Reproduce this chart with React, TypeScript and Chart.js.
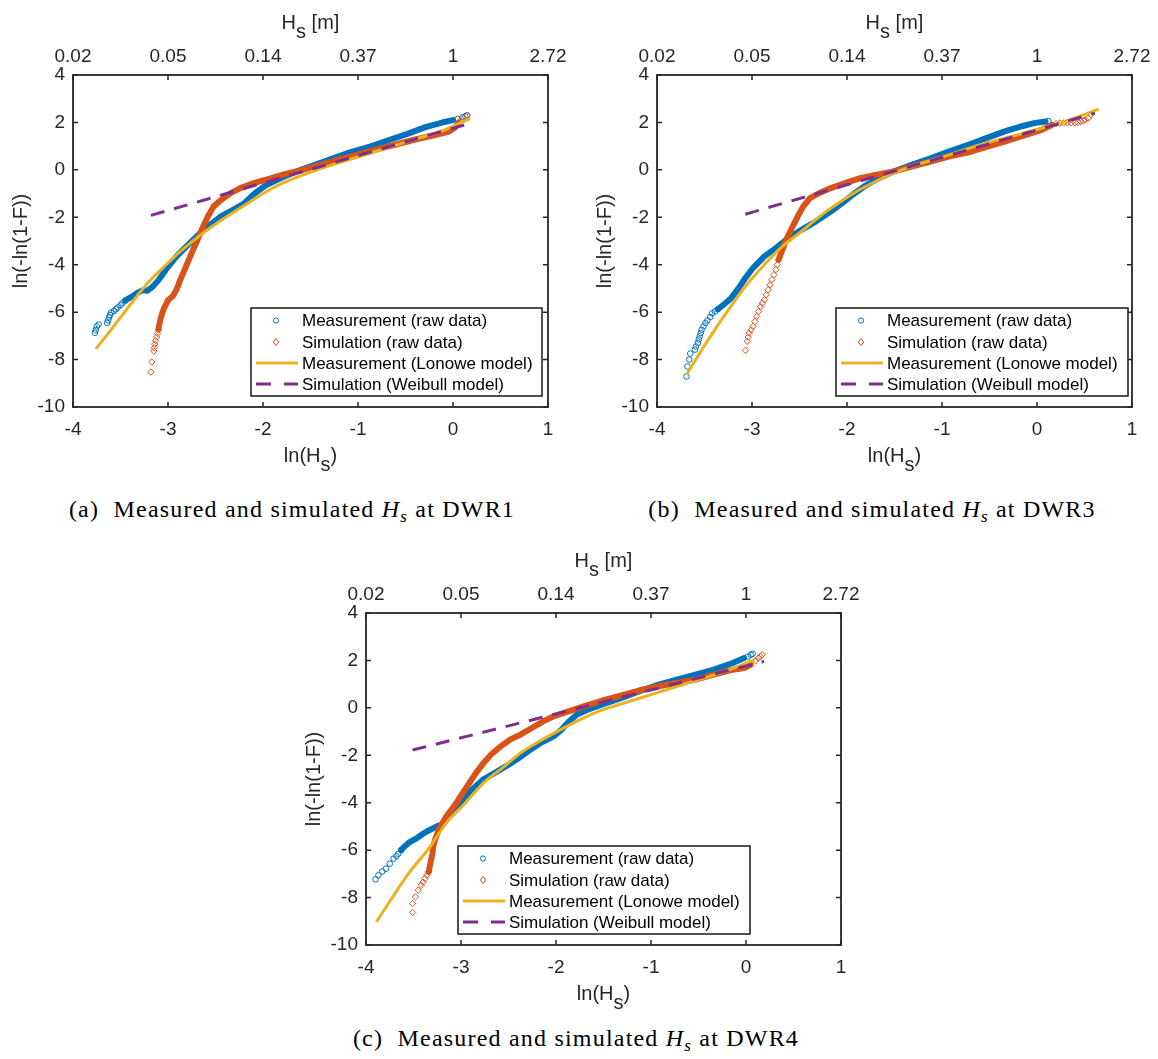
import React, { useEffect, useRef } from 'react';
import { Chart, registerables } from 'chart.js';
Chart.register(...registerables);

type P = [number, number];

// ---------- tick labels ----------
const xTickLabels = ['-4', '-3', '-2', '-1', '0', '1'];
const topTickLabels = ['0.02', '0.05', '0.14', '0.37', '1', '2.72'];
const yTickLabels = ['-10', '-8', '-6', '-4', '-2', '0', '2', '4'];
const legendLabels = [
  'Measurement (raw data)',
  'Simulation (raw data)',
  'Measurement (Lonowe model)',
  'Simulation (Weibull model)',
];

// ---------- panel (a) DWR1 ----------
const measA_tail: P[] = [
  [-3.77, -6.87], [-3.76, -6.75], [-3.75, -6.6], [-3.73, -6.52], [-3.64, -6.45], [-3.63, -6.35],
  [-3.62, -6.22], [-3.61, -6.12], [-3.6, -6.02], [-3.57, -5.95], [-3.55, -5.88], [-3.53, -5.8],
  [-3.5, -5.7], [-3.48, -5.62], [-3.45, -5.52],
];
const measA_band: P[] = [
  [-3.45, -5.5], [-3.38, -5.35], [-3.32, -5.18], [-3.26, -5.07], [-3.22, -5.1], [-3.16, -4.92],
  [-3.1, -4.65], [-3.02, -4.2], [-2.91, -3.65], [-2.79, -3.16], [-2.67, -2.7], [-2.55, -2.3],
  [-2.44, -1.95], [-2.32, -1.7], [-2.2, -1.42], [-2.09, -1.0], [-1.97, -0.65], [-1.81, -0.35],
  [-1.66, -0.08], [-1.46, 0.2], [-1.27, 0.48], [-1.07, 0.76], [-0.875, 0.98], [-0.68, 1.25],
  [-0.48, 1.52], [-0.29, 1.8], [-0.17, 1.93], [-0.09, 2.02], [0.0, 2.1],
];
const measA_top: P[] = [[0.05, 2.15], [0.1, 2.22], [0.13, 2.26], [0.15, 2.3]];
const simA_tail: P[] = [
  [-3.18, -8.53], [-3.17, -8.1], [-3.15, -7.64], [-3.145, -7.5], [-3.14, -7.35], [-3.13, -7.2],
  [-3.12, -7.05], [-3.11, -6.9], [-3.1, -6.75],
];
const simA_band: P[] = [
  [-3.1, -6.7], [-3.08, -6.3], [-3.06, -6.03], [-3.04, -5.82], [-3.0, -5.5], [-2.95, -5.33],
  [-2.91, -5.05], [-2.87, -4.63], [-2.81, -4.07], [-2.75, -3.5], [-2.69, -2.95], [-2.63, -2.38],
  [-2.57, -1.89], [-2.52, -1.54], [-2.44, -1.26], [-2.34, -0.98], [-2.24, -0.77], [-2.09, -0.55],
  [-1.93, -0.37], [-1.77, -0.18], [-1.58, 0.0], [-1.38, 0.23], [-1.19, 0.44], [-0.99, 0.66],
  [-0.8, 0.86], [-0.6, 1.07], [-0.41, 1.27], [-0.21, 1.45], [-0.05, 1.6], [0.02, 1.78], [0.06, 2.0],
];
const simA_top: P[] = [[0.08, 2.08], [0.11, 2.18], [0.15, 2.29]];
const lonoweA: P[] = [
  [-3.76, -7.55], [-3.61, -6.8], [-3.41, -5.75], [-3.22, -4.8], [-3.02, -4.0], [-2.83, -3.3],
  [-2.63, -2.66], [-2.44, -2.13], [-2.24, -1.61], [-2.05, -1.12], [-1.85, -0.67], [-1.66, -0.34],
  [-1.46, -0.04], [-1.27, 0.21], [-0.875, 0.7], [-0.48, 1.19], [-0.09, 1.68], [0.18, 2.17],
];
const weibullA: P[] = [[-3.18, -1.92], [0.16, 1.94]];

// ---------- panel (b) DWR3 ----------
const measB_tail: P[] = [
  [-3.69, -8.71], [-3.68, -8.29], [-3.66, -8.0], [-3.65, -7.75], [-3.6, -7.58], [-3.59, -7.45],
  [-3.57, -7.3], [-3.56, -7.15], [-3.55, -7.02], [-3.54, -6.88], [-3.53, -6.74], [-3.51, -6.6],
  [-3.49, -6.46], [-3.47, -6.35], [-3.44, -6.2], [-3.42, -6.05], [-3.39, -5.97], [-3.36, -5.88],
];
const measB_band: P[] = [
  [-3.36, -5.87], [-3.3, -5.69], [-3.22, -5.41], [-3.14, -4.99], [-3.07, -4.56], [-2.99, -4.14],
  [-2.87, -3.65], [-2.75, -3.3], [-2.64, -2.95], [-2.48, -2.53], [-2.33, -2.18], [-2.17, -1.76],
  [-2.05, -1.4], [-1.94, -1.05], [-1.82, -0.7], [-1.7, -0.42], [-1.51, -0.07], [-1.32, 0.21],
  [-1.12, 0.49], [-0.93, 0.77], [-0.73, 1.05], [-0.54, 1.33], [-0.34, 1.62], [-0.15, 1.85],
  [-0.03, 1.97], [0.09, 2.04],
];
const measB_top: P[] = [[0.12, 2.06]];
const simB_tail: P[] = [
  [-3.07, -7.61], [-3.05, -7.23], [-3.04, -7.05], [-3.03, -6.88], [-3.01, -6.75], [-2.99, -6.6],
  [-2.97, -6.4], [-2.95, -6.18], [-2.93, -5.97], [-2.91, -5.76], [-2.89, -5.62], [-2.87, -5.48],
  [-2.85, -5.27], [-2.83, -5.06], [-2.81, -4.85], [-2.79, -4.63], [-2.77, -4.42], [-2.75, -4.21],
  [-2.735, -4.0], [-2.72, -3.79],
];
const simB_band: P[] = [
  [-2.72, -3.79], [-2.68, -3.37], [-2.64, -2.95], [-2.58, -2.46], [-2.52, -1.97], [-2.46, -1.54],
  [-2.39, -1.19], [-2.29, -0.98], [-2.17, -0.77], [-2.02, -0.56], [-1.86, -0.35], [-1.7, -0.21],
  [-1.51, -0.07], [-1.32, 0.14], [-1.12, 0.35], [-0.93, 0.56], [-0.73, 0.73], [-0.54, 0.96],
  [-0.34, 1.19], [-0.15, 1.43], [0.05, 1.69], [0.16, 1.9],
];
const simB_top: P[] = [
  [0.2, 1.95], [0.24, 1.97], [0.28, 1.98], [0.32, 1.99], [0.36, 1.98], [0.4, 1.99], [0.43, 2.0],
  [0.46, 2.04], [0.49, 2.07], [0.51, 2.11], [0.54, 2.18], [0.57, 2.32],
];
const lonoweB: P[] = [
  [-3.69, -8.64], [-3.46, -7.16], [-3.26, -5.97], [-3.07, -4.92], [-2.87, -4.0], [-2.68, -3.23],
  [-2.48, -2.6], [-2.29, -1.97], [-2.09, -1.4], [-1.9, -0.91], [-1.7, -0.49], [-1.51, -0.14],
  [-1.32, 0.14], [-0.93, 0.63], [-0.54, 1.12], [-0.15, 1.54], [0.24, 1.97], [0.65, 2.56],
];
const weibullB: P[] = [[-3.07, -1.87], [0.61, 2.39]];

// ---------- panel (c) DWR4 ----------
const measC_tail: P[] = [
  [-3.9, -7.23], [-3.87, -7.06], [-3.83, -6.9], [-3.79, -6.78], [-3.75, -6.57], [-3.71, -6.36],
  [-3.68, -6.25], [-3.66, -6.15], [-3.63, -6.0],
];
const measC_band: P[] = [
  [-3.63, -6.0], [-3.6, -5.87], [-3.54, -5.66], [-3.46, -5.48], [-3.4, -5.31], [-3.34, -5.17],
  [-3.27, -5.03], [-3.19, -4.9], [-3.13, -4.62], [-3.07, -4.27], [-2.99, -3.92], [-2.88, -3.43],
  [-2.76, -3.0], [-2.64, -2.73], [-2.52, -2.45], [-2.41, -2.17], [-2.29, -1.82], [-2.17, -1.5],
  [-2.02, -1.19], [-1.94, -0.91], [-1.86, -0.56], [-1.78, -0.28], [-1.66, -0.07], [-1.51, 0.14],
  [-1.31, 0.42], [-1.12, 0.7], [-0.92, 0.98], [-0.73, 1.19], [-0.53, 1.4], [-0.34, 1.61],
  [-0.14, 1.89], [-0.02, 2.1],
];
const measC_top: P[] = [[0.02, 2.16], [0.05, 2.24], [0.07, 2.28]];
const simC_tail: P[] = [
  [-3.51, -8.63], [-3.51, -8.25], [-3.48, -7.97], [-3.45, -7.69], [-3.42, -7.48], [-3.4, -7.35],
  [-3.38, -7.2], [-3.36, -7.05], [-3.34, -6.92],
];
const simC_band: P[] = [
  [-3.34, -6.92], [-3.32, -6.5], [-3.3, -6.15], [-3.29, -5.8], [-3.27, -5.52], [-3.23, -5.1],
  [-3.15, -4.55], [-3.07, -4.13], [-2.99, -3.64], [-2.91, -3.15], [-2.84, -2.73], [-2.76, -2.31],
  [-2.68, -1.96], [-2.6, -1.68], [-2.48, -1.33], [-2.37, -1.12], [-2.25, -0.84], [-2.13, -0.56],
  [-2.02, -0.35], [-1.86, -0.14], [-1.7, 0.07], [-1.51, 0.31], [-1.31, 0.53], [-1.12, 0.74],
  [-0.92, 0.91], [-0.73, 1.05], [-0.53, 1.19], [-0.34, 1.4], [-0.14, 1.61], [-0.02, 1.68], [0.05, 1.82],
];
const simC_top: P[] = [[0.1, 1.98], [0.13, 2.1], [0.15, 2.16], [0.17, 2.24]];
const lonoweC: P[] = [
  [-3.89, -9.02], [-3.73, -8.04], [-3.54, -6.92], [-3.34, -5.94], [-3.15, -4.83], [-2.95, -3.99],
  [-2.76, -3.15], [-2.56, -2.52], [-2.37, -1.89], [-2.17, -1.4], [-1.98, -0.98], [-1.78, -0.56],
  [-1.59, -0.21], [-1.39, 0.07], [-1.0, 0.56], [-0.61, 1.05], [-0.22, 1.54], [0.09, 2.03],
];
const weibullC: P[] = [[-3.51, -1.78], [0.19, 1.96]];

// ---------- styling ----------
const BLUE = '#0072BD';
const ORANGE = '#D95319';
const YELLOW = '#EDB120';
const PURPLE = '#7E2F8E';
const AX = '#262626';
const SANS = '"Liberation Sans", Arial, Helvetica, sans-serif';
const SERIF = '"Liberation Serif", "Times New Roman", serif';
const DASH = [14, 10];

const CANVAS_H = 480;
const AREA_L = 73;
const AREA_T = 75;
const AREA_R = 548;
const AREA_B = 407;

interface PanelCfg {
  left: number; top: number; w: number;
  meas: P[][]; measBand: P[];
  sim: P[][]; simBand: P[];
  lonowe: P[]; weibull: P[];
  legend: { x: number; y: number; w: number; h: number };
}

const panels: PanelCfg[] = [
  { left: 0, top: 0, w: 580, meas: [measA_tail, measA_top], measBand: measA_band, sim: [simA_tail, simA_top], simBand: simA_band, lonowe: lonoweA, weibull: weibullA, legend: { x: 251, y: 308, w: 291, h: 88 } },
  { left: 584, top: 0, w: 574, meas: [measB_tail, measB_top], measBand: measB_band, sim: [simB_tail, simB_top], simBand: simB_band, lonowe: lonoweB, weibull: weibullB, legend: { x: 252, y: 308, w: 292, h: 88 } },
  { left: 293, top: 538, w: 580, meas: [measC_tail, measC_top], measBand: measC_band, sim: [simC_tail, simC_top], simBand: simC_band, lonowe: lonoweC, weibull: weibullC, legend: { x: 165, y: 308, w: 292, h: 88 } },
];

const toXY = (arr: P[]) => arr.map(([x, y]) => ({ x, y }));

function drawParts(ctx: CanvasRenderingContext2D, parts: { t: string; sub?: boolean }[], cx: number, baseline: number, font: string) {
  ctx.font = font;
  const widths = parts.map((p) => ctx.measureText(p.t).width);
  const total = widths.reduce((a, b) => a + b, 0);
  let x = cx - total / 2;
  ctx.textAlign = 'left';
  ctx.textBaseline = 'alphabetic';
  parts.forEach((p, i) => {
    ctx.fillText(p.t, x, baseline + (p.sub ? 9 : 0));
    x += widths[i];
  });
}

function makePlugin(cfg: PanelCfg) {
  return {
    id: 'frameLegend',
    afterDraw(chart: any) {
      const ctx: CanvasRenderingContext2D = chart.ctx;
      const a = chart.chartArea;
      const xs = chart.scales.x;
      const ys = chart.scales.y;
      ctx.save();
      // frame
      ctx.strokeStyle = AX;
      ctx.lineWidth = 1.8;
      ctx.strokeRect(a.left, a.top, a.right - a.left, a.bottom - a.top);
      // inward ticks
      const TL = 5;
      ctx.lineWidth = 1.5;
      ctx.beginPath();
      xs.ticks.forEach((t: any) => {
        const px = xs.getPixelForValue(t.value);
        ctx.moveTo(px, a.bottom); ctx.lineTo(px, a.bottom - TL);
        ctx.moveTo(px, a.top); ctx.lineTo(px, a.top + TL);
      });
      ys.ticks.forEach((t: any) => {
        const py = ys.getPixelForValue(t.value);
        ctx.moveTo(a.left, py); ctx.lineTo(a.left + TL, py);
        ctx.moveTo(a.right, py); ctx.lineTo(a.right - TL, py);
      });
      ctx.stroke();

      // axis titles
      ctx.fillStyle = AX;
      const cx = (a.left + a.right) / 2;
      const tf = `20px ${SANS}`;
      drawParts(ctx, [{ t: 'H' }, { t: 's', sub: true }, { t: ' [m]' }], cx, 29, tf);
      drawParts(ctx, [{ t: 'ln(H' }, { t: 's', sub: true }, { t: ')' }], cx, 462, tf);
      ctx.save();
      ctx.translate(a.left - 46, (a.top + a.bottom) / 2);
      ctx.rotate(-Math.PI / 2);
      ctx.font = tf;
      ctx.textAlign = 'center';
      ctx.textBaseline = 'alphabetic';
      ctx.fillText('ln(-ln(1-F))', 0, 0);
      ctx.restore();

      // legend
      const L = cfg.legend;
      ctx.fillStyle = '#ffffff';
      ctx.fillRect(L.x, L.y, L.w, L.h);
      ctx.strokeStyle = '#262626';
      ctx.lineWidth = 1.6;
      ctx.strokeRect(L.x, L.y, L.w, L.h);
      const rows = [12.5, 34, 55, 76];
      ctx.font = `17px ${SANS}`;
      ctx.fillStyle = '#000000';
      ctx.textAlign = 'left';
      ctx.textBaseline = 'middle';
      legendLabels.forEach((lab, i) => ctx.fillText(lab, L.x + 51, L.y + rows[i] + 1));
      // markers
      const mx = L.x + 25;
      ctx.lineWidth = 1;
      ctx.strokeStyle = BLUE;
      ctx.beginPath();
      ctx.arc(mx, L.y + rows[0], 2.6, 0, Math.PI * 2);
      ctx.stroke();
      ctx.strokeStyle = ORANGE;
      ctx.beginPath();
      const dy = L.y + rows[1];
      ctx.moveTo(mx, dy - 3.6); ctx.lineTo(mx + 2.6, dy); ctx.lineTo(mx, dy + 3.6); ctx.lineTo(mx - 2.6, dy); ctx.closePath();
      ctx.stroke();
      ctx.lineWidth = 3;
      ctx.strokeStyle = YELLOW;
      ctx.beginPath();
      ctx.moveTo(L.x + 5, L.y + rows[2]); ctx.lineTo(L.x + 47, L.y + rows[2]);
      ctx.stroke();
      ctx.strokeStyle = PURPLE;
      ctx.setLineDash([15, 13]);
      ctx.beginPath();
      ctx.moveTo(L.x + 5, L.y + rows[3]); ctx.lineTo(L.x + 47, L.y + rows[3]);
      ctx.stroke();
      ctx.setLineDash([]);
      ctx.restore();
    },
  };
}

function Panel({ cfg }: { cfg: PanelCfg }) {
  const ref = useRef<HTMLCanvasElement>(null);
  useEffect(() => {
    const tickFont = { family: SANS, size: 19 };
    const markerSet = (arr: P[], color: string, style: string, r: number) => ({
      data: toXY(arr), showLine: false, pointStyle: style, pointRadius: r,
      pointBorderColor: color, pointBackgroundColor: 'rgba(0,0,0,0)', pointBorderWidth: 1,
    });
    const bandSet = (arr: P[], color: string) => ({
      data: toXY(arr), showLine: true, borderColor: color, borderWidth: 6, pointRadius: 0,
      borderCapStyle: 'round', borderJoinStyle: 'round', tension: 0,
    });
    const datasets: any[] = [
      { data: toXY(cfg.weibull), showLine: true, borderColor: PURPLE, borderWidth: 3, borderDash: DASH, pointRadius: 0 },
      { data: toXY(cfg.lonowe), showLine: true, borderColor: YELLOW, borderWidth: 3, pointRadius: 0, tension: 0.3 },
      ...cfg.sim.map((s) => markerSet(s, ORANGE, 'rectRot', 3.2)),
      bandSet(cfg.simBand, ORANGE),
      ...cfg.meas.map((s) => markerSet(s, BLUE, 'circle', 2.8)),
      bandSet(cfg.measBand, BLUE),
    ];
    const chart = new Chart(ref.current!, {
      type: 'scatter',
      data: { datasets },
      options: {
        responsive: false,
        animation: false,
        events: [],
        layout: { padding: { left: 0, top: 0, right: cfg.w - AREA_R, bottom: 0 } },
        plugins: { legend: { display: false }, tooltip: { enabled: false } },
        scales: {
          x: {
            type: 'linear', position: 'bottom', min: -4, max: 1,
            ticks: { stepSize: 1, font: tickFont, color: AX, padding: 11, maxRotation: 0, autoSkip: false, callback: (_v: any, i: number) => xTickLabels[i] },
            grid: { display: false, drawTicks: false }, border: { display: false },
            afterFit: (s: any) => { s.height = CANVAS_H - AREA_B; },
          },
          x2: {
            type: 'linear', axis: 'x', position: 'top', min: -4, max: 1,
            ticks: { stepSize: 1, font: tickFont, color: AX, padding: 7, maxRotation: 0, autoSkip: false, callback: (_v: any, i: number) => topTickLabels[i] },
            grid: { display: false, drawTicks: false }, border: { display: false },
            afterFit: (s: any) => { s.height = AREA_T; },
          },
          y: {
            type: 'linear', position: 'left', min: -10, max: 4,
            ticks: { stepSize: 2, font: tickFont, color: AX, padding: 8, autoSkip: false, callback: (_v: any, i: number) => yTickLabels[i] },
            grid: { display: false, drawTicks: false }, border: { display: false },
            afterFit: (s: any) => { s.width = AREA_L; },
          },
        },
      } as any,
      plugins: [makePlugin(cfg)],
    });
    return () => chart.destroy();
  }, []);
  return (
    <canvas
      ref={ref}
      width={cfg.w}
      height={CANVAS_H}
      style={{ position: 'absolute', left: cfg.left, top: cfg.top, width: cfg.w, height: CANVAS_H }}
    />
  );
}

const captions = [
  { label: '(a)', site: 'DWR1', left: 0, width: 584, top: 497 },
  { label: '(b)', site: 'DWR3', left: 584, width: 576, top: 497 },
  { label: '(c)', site: 'DWR4', left: 276, width: 600, top: 1026 },
];

export default function App() {
  return (
    <div style={{ position: 'absolute', left: 0, top: 0, width: 1158, height: 1059, background: '#fff', overflow: 'hidden' }}>
      {panels.map((p, i) => <Panel key={i} cfg={p} />)}
      {captions.map((c, i) => (
        <div
          key={'c' + i}
          style={{
            position: 'absolute', left: c.left, top: c.top, width: c.width, textAlign: 'center',
            fontFamily: SERIF, fontSize: 24, lineHeight: '24px', letterSpacing: '1.2px', whiteSpace: 'pre', color: '#000',
          }}
        >
          {c.label + '  Measured and simulated '}
          <span style={{ fontStyle: 'italic' }}>H</span>
          <span style={{ fontStyle: 'italic', fontSize: 17, position: 'relative', top: 5 }}>s</span>
          {' at ' + c.site}
        </div>
      ))}
    </div>
  );
}
